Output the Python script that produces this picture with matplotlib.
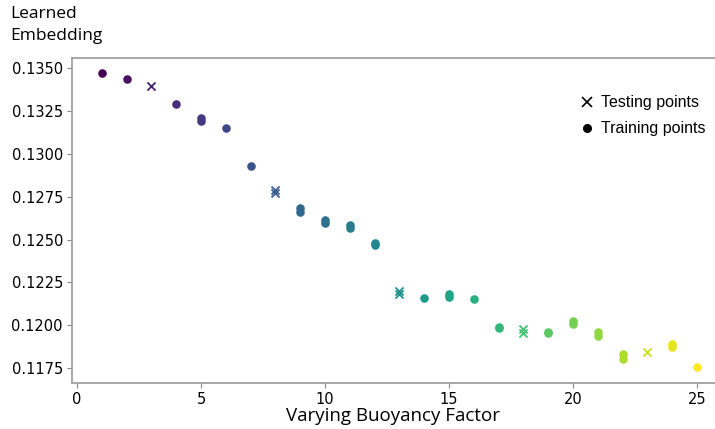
import matplotlib
matplotlib.use("Agg")
import matplotlib.pyplot as plt
from matplotlib.lines import Line2D

# buoyancy factor -> learned embedding samples (several runs per factor)
train_factors = [1, 2, 4, 5, 6, 7, 9, 10, 11, 12, 14, 15, 16, 17, 19, 20, 21, 22, 24, 25]
train_values = [
    [0.13471],
    [0.13436],
    [0.13291],
    [0.13206, 0.13192],
    [0.13151],
    [0.12930],
    [0.12684, 0.12660],
    [0.12614, 0.12595],
    [0.12586, 0.12566],
    [0.12481, 0.12467],
    [0.12157],
    [0.12180, 0.12168],
    [0.12151],
    [0.11992, 0.11984],
    [0.11962, 0.11955],
    [0.12025, 0.12008],
    [0.11962, 0.11935],
    [0.11832, 0.11806],
    [0.11893, 0.11875],
    [0.11756],
]
test_factors = [3, 8, 13, 18, 23]
test_values = [
    [0.13395],
    [0.12786, 0.12772],
    [0.12200, 0.12184],
    [0.11978, 0.11955],
    [0.11843],
]

cmap = plt.get_cmap("viridis")


def color_of(f):
    return cmap((f - 1) / 24)


fig = plt.figure(figsize=(7.15, 4.29), dpi=100)
ax = fig.add_axes([72 / 715, 1 - 383 / 429, 1 - 72 / 715, (383 - 58) / 429])

for f, vals in zip(train_factors, train_values):
    ax.scatter([f] * len(vals), vals, s=38, marker="o", color=color_of(f),
               linewidths=0, zorder=3)
for f, vals in zip(test_factors, test_values):
    ax.scatter([f] * len(vals), vals, s=34, marker="x", color=color_of(f),
               linewidths=1.3, zorder=3)

ax.set_xlim(-0.2, 25.73)
ax.set_ylim(0.11664, 0.13558)
ax.set_xticks([0, 5, 10, 15, 20, 25])
ax.set_yticks([0.1175, 0.1200, 0.1225, 0.1250, 0.1275, 0.1300, 0.1325, 0.1350])
ax.set_yticklabels([f"{v:.4f}" for v in ax.get_yticks()])
ax.tick_params(labelsize=10.5, color="#888888", length=3.5, pad=3)
for side in ["left", "bottom", "top"]:
    ax.spines[side].set_color("#999999")
    ax.spines[side].set_linewidth(1.2)
ax.spines["right"].set_visible(False)

ax.set_xlabel("Varying Buoyancy Factor", fontsize=13.5, family="Open Sans", labelpad=0)
fig.text(10 / 715, 1 - 6 / 429, "Learned\nEmbedding", fontsize=12.5, family="Open Sans",
         ha="left", va="top", linespacing=1.5)

handles = [
    Line2D([], [], marker="x", color="black", linestyle="none", markersize=7, markeredgewidth=1.2),
    Line2D([], [], marker="o", color="black", linestyle="none", markersize=5.5),
]
ax.legend(handles, ["Testing points", "Training points"], loc="upper right",
          bbox_to_anchor=(0.995, 0.905), frameon=False, borderaxespad=0,
          prop={"family": "Liberation Sans", "size": 11.5}, handletextpad=0.3,
          handlelength=1.2, labelspacing=0.7)

fig.savefig("out.png", dpi=100)
